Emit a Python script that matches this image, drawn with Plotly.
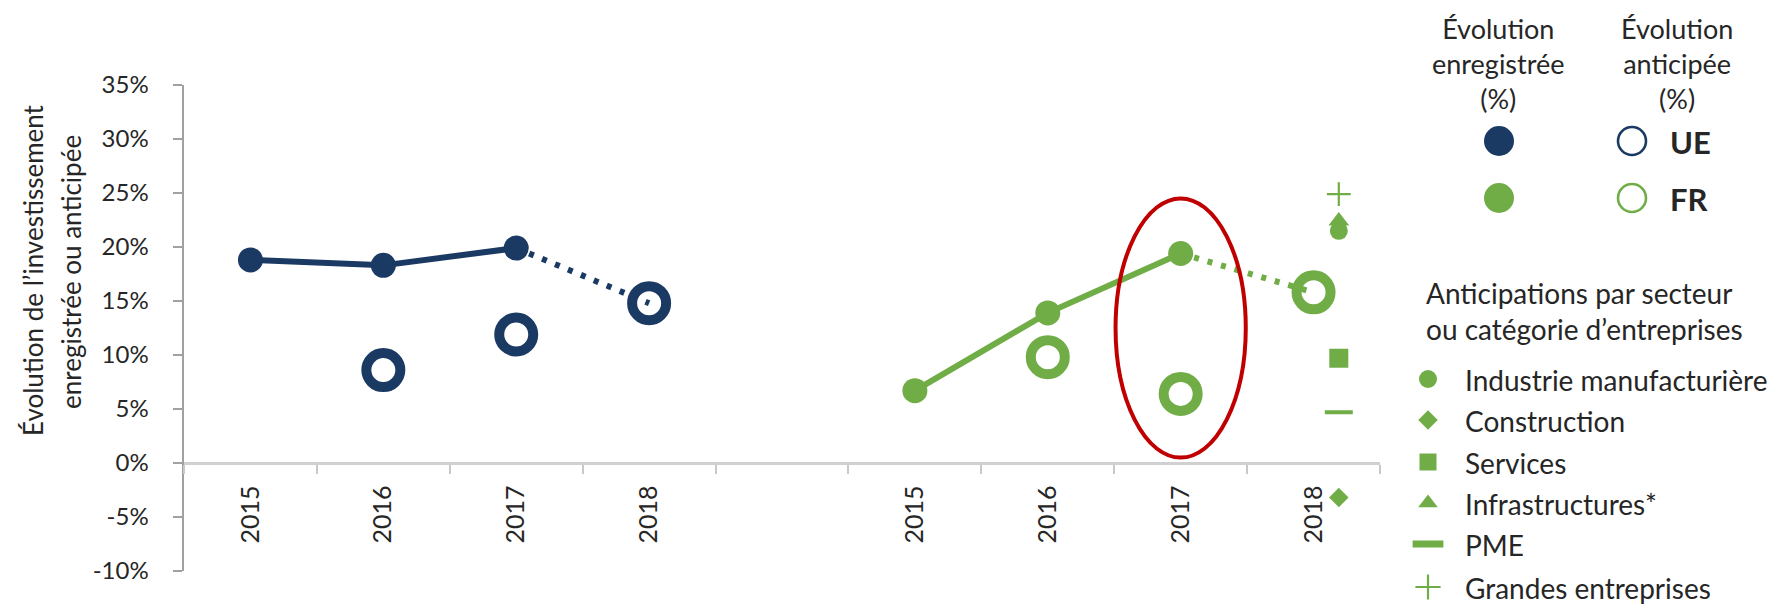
import plotly.graph_objects as go

# ---------------- data ----------------
categories = ["2015", "2016", "2017", "2018", "", "2015", "2016", "2017", "2018"]

eu_years_recorded = ["2015", "2016", "2017"]
eu_recorded = [18.8, 18.3, 19.9]
eu_years_anticipated = ["2016", "2017", "2018"]
eu_anticipated = [8.6, 11.9, 14.8]

fr_years_recorded = ["2015", "2016", "2017"]
fr_recorded = [6.7, 13.9, 19.4]
fr_years_anticipated = ["2016", "2017", "2018"]
fr_anticipated = [9.8, 6.4, 15.8]

sector_names = ["Industrie manufacturière", "Construction", "Services",
                "Infrastructures*", "PME", "Grandes entreprises"]
sector_fr_2018 = [21.5, -3.2, 9.7, 22.4, 4.7, 24.9]

y_ticks = [-10, -5, 0, 5, 10, 15, 20, 25, 30, 35]

# ---------------- styling ----------------
NAVY = "#1B3A63"
GREEN = "#70AD47"
RED = "#C00000"
TXT = "#262626"
FONT = "Lato"

EU_OFFSET = 0
FR_OFFSET = 5

W, H = 1772, 604
# plot area in pixels
PL, PR, PT, PB = 184, 1380, 85, 571


def fx(p):
    return p / W


def fy(p):
    return (H - p) / H


def pos(year, offset):
    return offset + ["2015", "2016", "2017", "2018"].index(year)


fig = go.Figure()


def add_country(rec_years, rec_vals, ant_years, ant_vals, offset, color):
    xr = [pos(y, offset) for y in rec_years]
    xa = [pos(y, offset) for y in ant_years]
    fig.add_trace(go.Scatter(
        x=[xr[-1], xa[-1]], y=[rec_vals[-1], ant_vals[-1]], mode="lines",
        line=dict(color=color, width=6, dash="5px,9px"),
        showlegend=False, hoverinfo="skip"))
    fig.add_trace(go.Scatter(
        x=xr, y=rec_vals, mode="lines+markers",
        line=dict(color=color, width=6),
        marker=dict(size=25, color=color),
        showlegend=False))
    fig.add_trace(go.Scatter(
        x=xa, y=ant_vals, mode="markers",
        marker=dict(symbol="circle-open", size=34, color=color,
                    line=dict(width=10, color=color)),
        showlegend=False))


add_country(eu_years_recorded, eu_recorded, eu_years_anticipated, eu_anticipated, EU_OFFSET, NAVY)
add_country(fr_years_recorded, fr_recorded, fr_years_anticipated, fr_anticipated, FR_OFFSET, GREEN)

# sector markers (FR 2018), slightly right of the category centre
sector_x = pos("2018", FR_OFFSET) + 0.19
sector_symbols = ["circle", "diamond", "square", "triangle-up", "line-ew", "cross-thin"]
sector_sizes = [18, 15, 19, 18, 20, 17]
sector_lw = [0, 0, 0, 0, 4, 2.2]
for i, (name, val) in enumerate(zip(sector_names, sector_fr_2018)):
    fig.add_trace(go.Scatter(
        x=[sector_x], y=[val], mode="markers", name=name, showlegend=False,
        marker=dict(symbol=sector_symbols[i], size=sector_sizes[i], color=GREEN,
                    line=dict(width=sector_lw[i], color=GREEN)),
        cliponaxis=False))

# highlight ellipse around FR 2017
x17 = pos("2017", FR_OFFSET)
fig.add_shape(type="circle", xref="x", yref="y",
              x0=x17 - 0.49, x1=x17 + 0.49, y0=0.5, y1=24.5,
              line=dict(color=RED, width=4))

# ---------------- legend (pixel overlay axes) ----------------
leg_cols = {"rec": 1499, "ant": 1632}
leg_rows = {"UE": 141, "FR": 198}
for key, col in [("UE", NAVY), ("FR", GREEN)]:
    fig.add_trace(go.Scatter(
        x=[leg_cols["rec"]], y=[leg_rows[key]], xaxis="x2", yaxis="y2",
        mode="markers", marker=dict(size=30, color=col), cliponaxis=False,
        showlegend=False, hoverinfo="skip"))
    fig.add_trace(go.Scatter(
        x=[leg_cols["ant"]], y=[leg_rows[key]], xaxis="x2", yaxis="y2",
        mode="markers", marker=dict(symbol="circle-open", size=28, color=col,
                                    line=dict(width=2.6, color=col)),
        cliponaxis=False, showlegend=False, hoverinfo="skip"))

sec_leg_x = 1428
sec_leg_rows = [379, 420, 462, 503, 544, 587]
sec_leg_sizes = [18, 15, 17, 17, 22, 18]
sec_leg_lw = [0, 0, 0, 0, 7, 2.2]
for i, name in enumerate(sector_names):
    fig.add_trace(go.Scatter(
        x=[sec_leg_x], y=[sec_leg_rows[i]], xaxis="x2", yaxis="y2", mode="markers",
        marker=dict(symbol=sector_symbols[i], size=sec_leg_sizes[i], color=GREEN,
                    line=dict(width=sec_leg_lw[i], color=GREEN)),
        cliponaxis=False, showlegend=False, hoverinfo="skip"))

annos = [
    dict(x=fx(1498), y=fy(64), text="Évolution<br>enregistrée<br>(%)",
         xanchor="center", yanchor="middle", font=dict(size=27)),
    dict(x=fx(1677), y=fy(64), text="Évolution<br>anticipée<br>(%)",
         xanchor="center", yanchor="middle", font=dict(size=27)),
    dict(x=fx(1668), y=fy(142), text="<b>UE</b>", xanchor="left", yanchor="middle",
         font=dict(size=31)),
    dict(x=fx(1668), y=fy(199), text="<b>FR</b>", xanchor="left", yanchor="middle",
         font=dict(size=31)),
    dict(x=fx(1424), y=fy(311), text="Anticipations par secteur<br>ou catégorie d’entreprises",
         xanchor="left", yanchor="middle", align="left", font=dict(size=28)),
    dict(x=fx(33), y=fy(270), text="Évolution de l’investissement", textangle=-90,
         xanchor="center", yanchor="middle", font=dict(size=26)),
    dict(x=fx(71), y=fy(272), text="enregistrée ou anticipée", textangle=-90,
         xanchor="center", yanchor="middle", font=dict(size=26)),
]
for i, name in enumerate(sector_names):
    annos.append(dict(x=fx(1463), y=fy(sec_leg_rows[i] + 1), text=name,
                      xanchor="left", yanchor="middle", font=dict(size=28)))
for a in annos:
    a.update(xref="paper", yref="paper", showarrow=False)
    a["font"].update(family=FONT, color=TXT)
    fig.add_annotation(**a)

y_dom = [fy(PB), fy(PT)]
fig.update_layout(
    width=W, height=H,
    margin=dict(l=0, r=0, t=0, b=0, pad=0, autoexpand=False),
    paper_bgcolor="white", plot_bgcolor="rgba(0,0,0,0)",
    font=dict(family=FONT, color=TXT, size=24),
    showlegend=False,
    xaxis=dict(
        domain=[fx(PL), fx(PR)],
        range=[-0.5, len(categories) - 0.5],
        anchor="free",
        position=y_dom[0] + (0 - y_ticks[0]) / (y_ticks[-1] - y_ticks[0]) * (y_dom[1] - y_dom[0]),
        tickmode="array", tickvals=list(range(len(categories))), ticktext=categories,
        tickangle=-90, tickfont=dict(size=25, color=TXT, family=FONT),
        ticks="outside", ticklen=9, tickcolor="rgba(0,0,0,0)",
        ticklabelstandoff=2,
        minor=dict(tickmode="array",
                   tickvals=[i - 0.5 for i in range(len(categories) + 1)],
                   ticks="outside", ticklen=9, tickwidth=2, tickcolor="#C8C8C8",
                   showgrid=False),
        showline=True, linecolor="#D0D0D0", linewidth=2.5,
        showgrid=False, zeroline=False, fixedrange=True, automargin=False,
    ),
    yaxis=dict(
        domain=y_dom,
        range=[y_ticks[0], y_ticks[-1]],
        tickmode="array", tickvals=y_ticks, ticktext=[f"{v}%" for v in y_ticks],
        tickfont=dict(size=24, color=TXT, family=FONT),
        ticks="outside", ticklen=9, tickwidth=2.5, tickcolor="#A0A0A0",
        ticklabelstandoff=19,
        showline=True, linecolor="#A0A0A0", linewidth=2.5,
        showgrid=False, zeroline=False, fixedrange=True, automargin=False,
    ),
    xaxis2=dict(domain=[0, 1], range=[0, W], visible=False, fixedrange=True,
                anchor="y2", automargin=False),
    yaxis2=dict(domain=[0, 1], range=[H, 0], visible=False, fixedrange=True,
                anchor="x2", automargin=False),
)

fig.write_html("out.html",
               config={"displayModeBar": False, "staticPlot": True},
               post_script="document.body.style.margin='0';document.body.style.overflow='hidden';")
